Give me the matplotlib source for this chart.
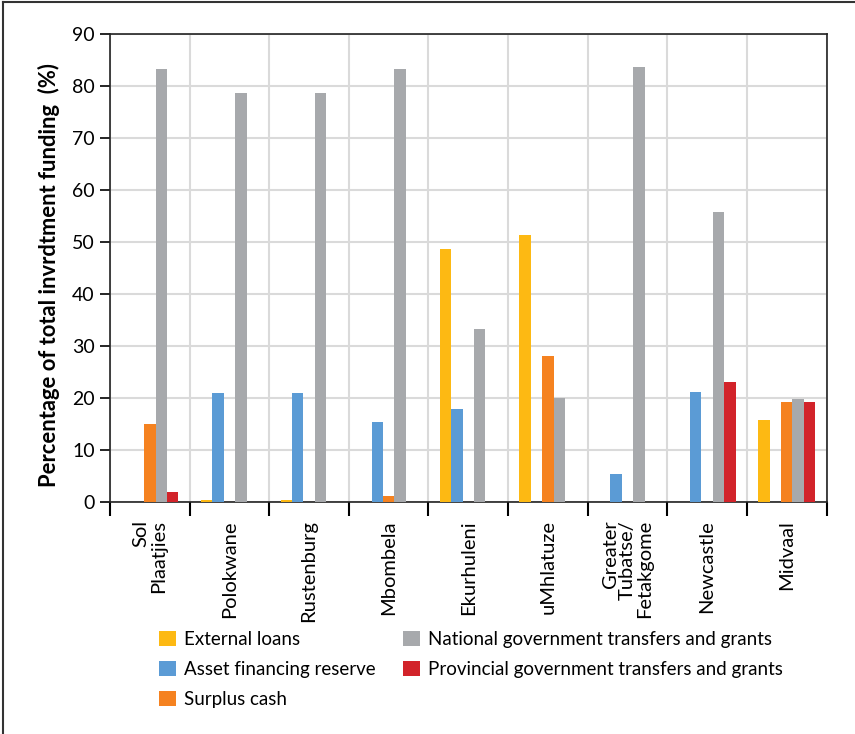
import numpy as np
import matplotlib.pyplot as plt
from matplotlib.lines import Line2D

plt.rcParams['font.family'] = ['Lato', 'DejaVu Sans']

# Data
municipalities = ["Sol\nPlaatjies", "Polokwane", "Rustenburg", "Mbombela", "Ekurhuleni",
                  "uMhlatuze", "Greater\nTubatse/\nFetakgome", "Newcastle", "Midvaal"]
external_loans = [0, 0.4, 0.4, 0, 48.7, 51.3, 0, 0, 15.7]
asset_reserve = [0, 21.0, 21.0, 15.3, 17.8, 0, 5.3, 21.1, 0]
surplus_cash = [15.0, 0, 0, 1.2, 0, 28.1, 0, 0, 19.2]
national_grants = [83.2, 78.6, 78.6, 83.2, 33.3, 20.0, 83.6, 55.8, 19.8]
provincial_grants = [2.0, 0, 0, 0, 0, 0, 0, 23.1, 19.2]

series = [
    ("External loans", external_loans, "#FDB913"),
    ("Asset financing reserve", asset_reserve, "#5B9BD5"),
    ("Surplus cash", surplus_cash, "#F58220"),
    ("National government transfers and grants", national_grants, "#A7A9AC"),
    ("Provincial government transfers and grants", provincial_grants, "#D2232A"),
]

fig = plt.figure(figsize=(8.55, 7.34), dpi=100)
ax = fig.add_axes([0.1287, 0.316, 0.838, 0.6377])

x = np.arange(len(municipalities))
width = 0.143
for i, (name, vals, color) in enumerate(series):
    ax.bar(x + (i - 2) * width, vals, width, color=color, label=name, zorder=3)

ax.set_xlim(-0.5, len(municipalities) - 0.5)
ax.set_ylim(0, 90)
ax.set_yticks(range(0, 91, 10))
ax.tick_params(axis='y', labelsize=14, length=7, width=1.2, direction='out', pad=4)

# group boundaries as major ticks, names as minor ticks
ax.set_xticks(np.arange(-0.5, len(municipalities), 1.0))
ax.set_xticklabels([])
ax.tick_params(axis='x', which='major', length=10, width=1.5, direction='out')
ax.set_xticks(x, minor=True)
ax.set_xticklabels(municipalities, minor=True, rotation=90, fontsize=14.5,
                   va='top', ha='center', multialignment='right', linespacing=1.0)
ax.tick_params(axis='x', which='minor', length=0, pad=13)

ax.grid(True, which='major', color='#DADADA', linewidth=1.5, zorder=0)
ax.set_axisbelow(True)
for s in ax.spines.values():
    s.set_linewidth(1.2)
    s.set_color('#222222')

ax.set_ylabel("Percentage of total invrdtment funding  (%)", fontsize=15.8,
              fontweight='bold')
ax.yaxis.set_label_coords(-0.07, 0.485)

handles, labels = ax.get_legend_handles_labels()
leg = fig.legend(handles, labels,
                 loc='upper left', bbox_to_anchor=(0.1754, 0.153), ncol=2,
                 frameon=False, fontsize=13.5,
                 borderpad=0, handlelength=0.9, handleheight=0.85,
                 handletextpad=0.43, columnspacing=1.47, labelspacing=0.7)

# outer frame (top and left edges visible in the reference)
fig.add_artist(Line2D([0.003, 0.003], [0, 0.997], transform=fig.transFigure,
                      color='#333333', linewidth=1.5))
fig.add_artist(Line2D([0.003, 1], [0.997, 0.997], transform=fig.transFigure,
                      color='#333333', linewidth=1.5))

fig.savefig("out.png", dpi=100)
